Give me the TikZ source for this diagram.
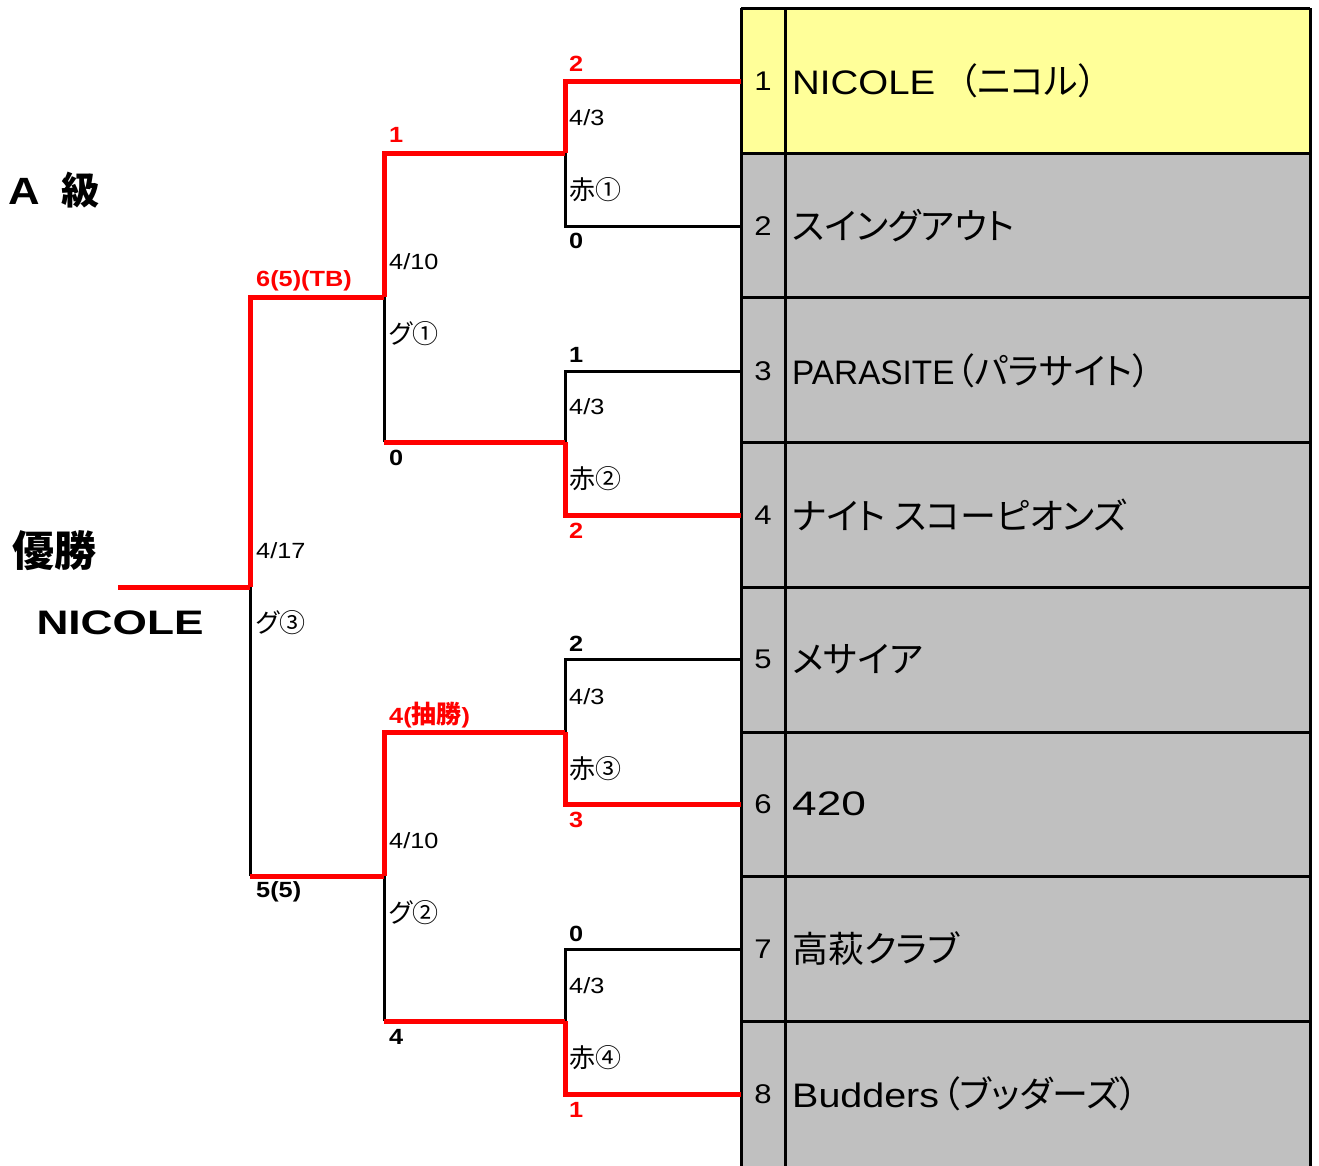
\documentclass[tikz,border=0pt]{standalone}
\usepackage{fontspec}
\usepackage{graphicx}
\newfontfamily\jp[RawFeature={+palt}]{Noto Sans CJK JP}
\newfontfamily\lab[FakeStretch=1.15]{Liberation Sans}
\newfontfamily\nmfont{Liberation Sans}
\newcommand\latn[2]{\scalebox{#1}[1]{\nmfont #2}}
\definecolor{winred}{HTML}{FF0000}
\definecolor{seedyel}{HTML}{FFFF99}
\definecolor{cellgray}{HTML}{C0C0C0}
\tikzset{
  win/.style={draw=winred, line width=5pt},
  lose/.style={draw=black, line width=3pt},
  gridline/.style={draw=black, line width=3pt},
  datelbl/.style={anchor=west, inner sep=0pt, font=\lab\fontsize{22}{24}\selectfont},
  cirlbl/.style={anchor=west, inner sep=0pt, font=\jp\fontsize{26}{28}\selectfont},
  score/.style={anchor=west, inner sep=0pt, font=\lab\bfseries\fontsize{22}{24}\selectfont},
  rscore/.style={score, text=winred},
  numtxt/.style={inner sep=0pt, font=\lab\fontsize{27}{29}\selectfont},
  nametxt/.style={anchor=west, inner sep=0pt, font=\jp\fontsize{36}{38}\selectfont},
}
\begin{document}
\begin{tikzpicture}[x=1pt,y=-1pt]
\useasboundingbox (0,0) rectangle (1319,1165);
% ---- table ----
\fill[seedyel] (741,8) rectangle (1310,153);
\fill[cellgray] (741,153) rectangle (1310,1175);
\foreach \yy in {8,153,297,442,587,732,876,1021} {\draw[gridline] (741,\yy) -- (1310,\yy);}
\draw[gridline] (741,1175) -- (741,8);
\draw[gridline] (785,1175) -- (785,8);
\draw[gridline] (1310,1175) -- (1310,8);
\node[numtxt] (n1) at (763,81) {1};
\node[numtxt] (n2) at (763,226) {2};
\node[numtxt] (n3) at (763,371) {3};
\node[numtxt] (n4) at (763,515) {4};
\node[numtxt] (n5) at (763,659) {5};
\node[numtxt] (n6) at (763,804) {6};
\node[numtxt] (n7) at (763,949) {7};
\node[numtxt] (n8) at (763,1094) {8};
\node[nametxt] (t1) at (792,81) {\latn{1.13}{\fontsize{34}{36}\selectfont NICOLE}\hspace{24pt}（ニコル）};
\node[nametxt] (t2) at (792,226) {スイングアウト};
\node[nametxt] (t3) at (792,371) {\latn{0.98}{\fontsize{34}{36}\selectfont PARASITE}\hspace{2pt}（パラサイト）};
\node[nametxt] (t4) at (792,515) {ナイト スコーピオンズ};
\node[nametxt] (t5) at (792,659) {メサイア};
\node[nametxt] (t6) at (792,804) {\latn{1.3}{\fontsize{34}{36}\selectfont 420}};
\node[nametxt] (t7) at (792,949) {高萩クラブ};
\node[nametxt] (t8) at (792,1094) {\latn{1.16}{\fontsize{34}{36}\selectfont Budders}\hspace{3pt}（ブッダーズ）};
% ---- bracket coordinates ----
\coordinate (e1) at (741,81);
\coordinate (e2) at (741,226);
\coordinate (e3) at (741,371);
\coordinate (e4) at (741,515);
\coordinate (e5) at (741,659);
\coordinate (e6) at (741,804);
\coordinate (e7) at (741,949);
\coordinate (e8) at (741,1094);
\coordinate (m1) at (565,153);
\coordinate (m2) at (565,442);
\coordinate (m3) at (565,732);
\coordinate (m4) at (565,1021);
\coordinate (q1) at (384,297);
\coordinate (q2) at (384,876);
\coordinate (f) at (250,587);
\coordinate (w) at (118,587);
% losers (black)
\draw[lose] (e2) -| (m1);
\draw[lose] (e3) -| (m2);
\draw[lose] (e5) -| (m3);
\draw[lose] (e7) -| (m4);
\draw[lose] (m2 -| q1) -- (q1);
\draw[lose] (m4 -| q2) -- (q2);
\draw[lose] (q2 -| f) -- (f);
% winners (red)
\draw[win] (e1) -| (m1);
\draw[win] (e4) -| (m2);
\draw[win] (e6) -| (m3);
\draw[win] (e8) -| (m4);
\draw[win] (m1) -| (q1);
\draw[win] (m2) -- (m2 -| q1);
\draw[win] (m3) -| (q2);
\draw[win] (m4) -- (m4 -| q2);
\draw[win] (q1) -| (f);
\draw[win] (q2) -- (q2 -| f);
\draw[win] (f) -- (w);
% ---- round 1 labels ----
\node[rscore] (s1a) at (569,64) {2};
\node[datelbl] (d1) at (569,118) {4/3};
\node[cirlbl] (c1) at (569,190) {赤①};
\node[score] (s1b) at (569,241) {0};
\node[score] (s2a) at (569,355) {1};
\node[datelbl] (d2) at (569,407) {4/3};
\node[cirlbl] (c2) at (569,479) {赤②};
\node[rscore] (s2b) at (569,531) {2};
\node[score] (s3a) at (569,644) {2};
\node[datelbl] (d3) at (569,697) {4/3};
\node[cirlbl] (c3) at (569,769) {赤③};
\node[rscore] (s3b) at (569,820) {3};
\node[score] (s4a) at (569,934) {0};
\node[datelbl] (d4) at (569,986) {4/3};
\node[cirlbl] (c4) at (569,1058) {赤④};
\node[rscore] (s4b) at (569,1110) {1};
% ---- round 2 labels ----
\node[rscore] (g1a) at (389,135) {1};
\node[datelbl] (gd1) at (389,262) {4/10};
\node[cirlbl] (gc1) at (389,334) {グ①};
\node[score] (g1b) at (389,458) {0};
\node[rscore] (g2a) at (389,715) {4(\jp\bfseries\fontsize{25}{27}\selectfont 抽勝\lab\fontsize{22}{24}\selectfont)};
\node[datelbl] (gd2) at (389,841) {4/10};
\node[cirlbl] (gc2) at (389,913) {グ②};
\node[score] (g2b) at (389,1037) {4};
% ---- final labels ----
\node[rscore] (fa) at (256,281) {6(5)(TB)};
\node[datelbl] (fd) at (256,551) {4/17};
\node[cirlbl] (fc) at (256,623) {グ③};
\node[score] (fb) at (256,892) {5(5)};
% ---- left titles ----
\node[anchor=west, inner sep=0pt] (cls) at (8,190) {{\lab\bfseries\fontsize{38}{40}\selectfont A}\hspace{22pt}{\jp\bfseries\fontsize{38}{40}\selectfont 級}};
\node[anchor=west, inner sep=0pt, font=\jp\bfseries\fontsize{42}{44}\selectfont] (champ) at (12,551) {優勝};
\node[inner sep=0pt] (champname) at (120,623) {\scalebox{1.3}[1]{\nmfont\bfseries\fontsize{34}{36}\selectfont NICOLE}};
\end{tikzpicture}
\end{document}
